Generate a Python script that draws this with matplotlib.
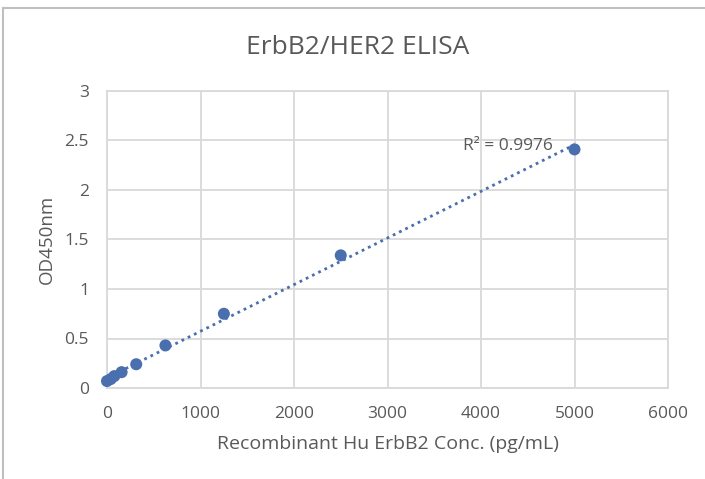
import numpy as np
import matplotlib
matplotlib.use("Agg")
import matplotlib.pyplot as plt
from matplotlib.lines import Line2D

conc = [0, 39, 78, 156, 312.5, 625, 1250, 2500, 5000]
od = [0.07, 0.09, 0.12, 0.16, 0.24, 0.43, 0.75, 1.34, 2.41]
x_ticks = [0, 1000, 2000, 3000, 4000, 5000, 6000]
y_ticks = [0, 0.5, 1, 1.5, 2, 2.5, 3]
y_tick_labels = ["0", "0.5", "1", "1.5", "2", "2.5", "3"]

plt.rcParams['font.family'] = ['Open Sans', 'DejaVu Sans']
gray = '#595959'
blue = '#4a6fae'

fig = plt.figure(figsize=(7.05, 4.79), dpi=100)
ax = fig.add_axes([107/705, 1-388/479, (668-107)/705, (388-91)/479])

coef = np.polyfit(conc, od, 1)
xf = np.array([min(conc), max(conc)])
ax.plot(xf, np.polyval(coef, xf), linestyle=(0, (1, 1.5)), color=blue, lw=2, zorder=2)
ax.scatter(conc, od, s=75, color=blue, zorder=3, edgecolors='none', clip_on=False)

ax.set_xlim(0, 6000)
ax.set_ylim(0, 3)
ax.set_xticks(x_ticks)
ax.set_yticks(y_ticks)
ax.set_yticklabels(y_tick_labels)
ax.grid(True, color='#d9d9d9', lw=1.3)
ax.set_axisbelow(True)
for s in ax.spines.values():
    s.set_color('#d9d9d9')
    s.set_linewidth(1.3)
ax.tick_params(length=0, colors=gray, labelsize=12.5)
ax.tick_params(axis='y', pad=13)
ax.tick_params(axis='x', pad=13)

fig.text(357.5/705, 1-47/479, 'ErbB2/HER2 ELISA', color=gray, fontsize=19, ha='center', va='center')
ax.set_xlabel('Recombinant Hu ErbB2 Conc. (pg/mL)', color=gray, fontsize=14, labelpad=9)
ax.set_ylabel('OD450nm', color=gray, fontsize=13.5, labelpad=6)

ax.text(4283, 2.44, 'R² = 0.9976', color=gray, fontsize=12.5, va='center', ha='center')

# outer chart frame (top and left edges)
fig.add_artist(Line2D([3/705, 1], [1-8/479, 1-8/479], transform=fig.transFigure, color='#bfbfbf', lw=1.5))
fig.add_artist(Line2D([3/705, 3/705], [0, 1-8/479], transform=fig.transFigure, color='#bfbfbf', lw=1.5))

fig.savefig('out.png', dpi=100)
